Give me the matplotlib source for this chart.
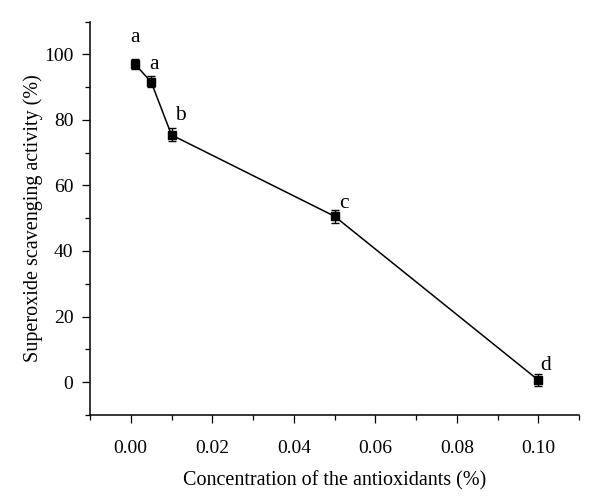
import matplotlib
matplotlib.use("Agg")
import matplotlib.pyplot as plt
from matplotlib.ticker import MultipleLocator

# data
conc = [0.001, 0.005, 0.01, 0.05, 0.10]
activity = [97.0, 91.6, 75.4, 50.6, 0.6]
err = [1.6, 1.7, 2.0, 2.0, 1.9]
letters = ['a', 'a', 'b', 'c', 'd']
# label offsets (pixels) from each point
offsets = [(0, 27), (3, 17), (9, 19), (9, 13), (7, 15)]

plt.rcParams['font.family'] = ['Liberation Serif', 'DejaVu Serif']
plt.rcParams['font.size'] = 14

fig = plt.figure(figsize=(6.0, 5.01), dpi=100)
ax = fig.add_axes([0.15, 0.172, 0.815, 0.785])

ax.errorbar(conc, activity, yerr=err, fmt='s-', color='black', ms=5.5,
            lw=1.1, elinewidth=1.0, capsize=3, capthick=1.0)

for x, y, t, (dx, dy) in zip(conc, activity, letters, offsets):
    ax.annotate(t, (x, y), xytext=(dx, dy), textcoords='offset pixels',
                ha='center', va='center', fontsize=15.5)

ax.set_xlim(-0.01, 0.11)
ax.set_ylim(-10, 110)
ax.xaxis.set_major_locator(MultipleLocator(0.02))
ax.xaxis.set_minor_locator(MultipleLocator(0.01))
ax.yaxis.set_major_locator(MultipleLocator(20))
ax.yaxis.set_minor_locator(MultipleLocator(10))
ax.xaxis.set_major_formatter(plt.FormatStrFormatter('%.2f'))

for s in ['top', 'right']:
    ax.spines[s].set_visible(False)
for s in ['left', 'bottom']:
    ax.spines[s].set_linewidth(1.1)

ax.tick_params(which='major', direction='out', length=6, width=0.9, labelsize=14)
ax.tick_params(which='minor', direction='out', length=3.5, width=0.9)
ax.tick_params(axis='x', which='major', pad=12)
ax.tick_params(axis='y', which='major', pad=6)

ax.set_xlabel('Concentration of the antioxidants (%)', fontsize=14.5, labelpad=10)
ax.set_ylabel('Superoxide scavenging activity (%)', fontsize=14.5, labelpad=1)

fig.savefig('out.png', dpi=100)
